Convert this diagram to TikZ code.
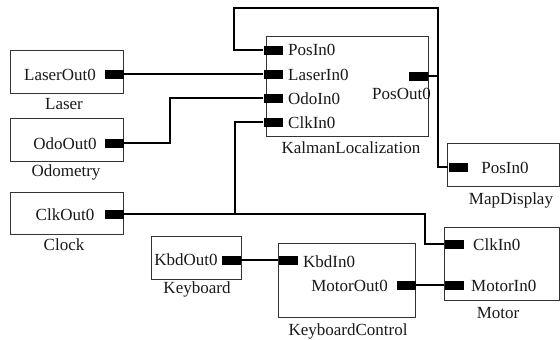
\documentclass[tikz,border=0pt]{standalone}
\usepackage{fontspec}
\setmainfont{Liberation Serif}
\begin{document}
\begin{tikzpicture}[x=1pt,y=-1pt,
  blk/.style={draw=black!80, line width=1.1pt, fill=white, anchor=north west, inner sep=0pt},
  port/.style={fill=black, draw=none, minimum width=19pt, minimum height=9pt, inner sep=0pt},
  txt/.style={inner sep=0pt, font=\fontsize{17}{20}\selectfont, text=black!90},
  wire/.style={line width=1.8pt, black}]
\useasboundingbox (0,0) rectangle (560,340);
% boxes
\node[blk, minimum width=113pt, minimum height=43pt] (laser) at (10,50) {};
\node[blk, minimum width=113pt, minimum height=43pt] (odo) at (10,118) {};
\node[blk, minimum width=113pt, minimum height=42pt] (clock) at (10,192) {};
\node[blk, minimum width=90pt, minimum height=43pt] (kbd) at (151,236) {};
\node[blk, minimum width=162pt, minimum height=100pt] (kalman) at (266,36) {};
\node[blk, minimum width=112pt, minimum height=43pt] (map) at (447,143) {};
\node[blk, minimum width=115pt, minimum height=73pt] (motor) at (444,227) {};
\node[blk, minimum width=137pt, minimum height=74pt] (kctl) at (278,243) {};
% ports
\node[port] (lo) at (114,74) {};
\node[port] (oo) at (114,143) {};
\node[port] (co) at (114,214) {};
\node[port] (ko) at (231,260) {};
\node[port] (pi) at (273,50) {};
\node[port] (li) at (273,74) {};
\node[port] (oi) at (273,98) {};
\node[port] (ci) at (273,122) {};
\node[port] (po) at (418,76) {};
\node[port] (mpi) at (458,167) {};
\node[port] (mci) at (454,244) {};
\node[port] (mi) at (454,285) {};
\node[port] (ki) at (288,260) {};
\node[port] (mo) at (406,285) {};
% texts
\node[txt, anchor=base] (t1) at (60,80) {LaserOut0};
\node[txt, anchor=base] (t2) at (64,109) {Laser};
\node[txt, anchor=base] (t3) at (65,149) {OdoOut0};
\node[txt, anchor=base] (t4) at (66,176) {Odometry};
\node[txt, anchor=base] (t5) at (65,220) {ClkOut0};
\node[txt, anchor=base] (t6) at (64,250) {Clock};
\node[txt, anchor=base] (t7) at (186,265) {KbdOut0};
\node[txt, anchor=base] (t8) at (197,293) {Keyboard};
\node[txt, anchor=base west] (t9) at (288,56) {PosIn0};
\node[txt, anchor=base west] (t10) at (288,80) {LaserIn0};
\node[txt, anchor=base west] (t11) at (288,104) {OdoIn0};
\node[txt, anchor=base west] (t12) at (288,128) {ClkIn0};
\node[txt, anchor=base east] (t13) at (431,99) {PosOut0};
\node[txt, anchor=base] (t14) at (351,153) {KalmanLocalization};
\node[txt, anchor=base] (t15) at (505,173) {PosIn0};
\node[txt, anchor=base] (t16) at (511,204) {MapDisplay};
\node[txt, anchor=base west] (t17) at (473,250) {ClkIn0};
\node[txt, anchor=base west] (t18) at (471,291) {MotorIn0};
\node[txt, anchor=base] (t19) at (498,318) {Motor};
\node[txt, anchor=base west] (t20) at (303,267) {KbdIn0};
\node[txt, anchor=base east] (t21) at (388,291) {MotorOut0};
\node[txt, anchor=base] (t22) at (348,335) {KeyboardControl};
% junction coordinates
\coordinate (cj) at (235,214);
\coordinate (cr) at (425,214);
\coordinate (pr) at (438,76);
\coordinate (pt) at (438,8);
\coordinate (pl) at (234,8);
% wires
\draw[wire] (lo.east) -- (li.west);
\draw[wire] (oo.east) -- ++(46,0) |- (oi.west);
\draw[wire] (co.east) -- (cr) |- (mci.west);
\draw[wire] (cj) |- (ci.west);
\draw[wire] (po.east) -- (pr) -- (pt) -- (pl) |- (pi.west);
\draw[wire] (pr) |- (mpi.west);
\draw[wire] (ko.east) -- (ki.west);
\draw[wire] (mo.east) -- (mi.west);
\end{tikzpicture}
\end{document}
